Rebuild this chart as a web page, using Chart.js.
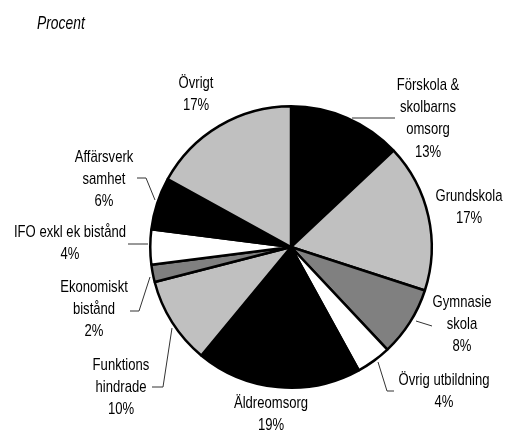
<!DOCTYPE html>
<html lang="sv">
<head>
<meta charset="utf-8">
<script src="https://cdn.jsdelivr.net/npm/chart.js@4"></script>
<style>
  html, body { margin: 0; padding: 0; background: #fff; }
  #wrap { width: 506px; height: 437px; position: relative; }
</style>
</head>
<body>
<div id="wrap"><canvas id="costChart"></canvas></div>
<script>
// Kostnadsfördelning, procent
const categories = [
  ["Förskola &", "skolbarns", "omsorg"],
  ["Grundskola"],
  ["Gymnasie", "skola"],
  ["Övrig utbildning"],
  ["Äldreomsorg"],
  ["Funktions", "hindrade"],
  ["Ekonomiskt", "bistånd"],
  ["IFO exkl ek bistånd"],
  ["Affärsverk", "samhet"],
  ["Övrigt"],
];
const shares = [13, 17, 8, 4, 19, 10, 2, 4, 6, 17];
const sliceColors = [
  "#000000", "#c0c0c0", "#808080", "#ffffff", "#000000",
  "#c0c0c0", "#808080", "#ffffff", "#000000", "#c0c0c0",
];

const FONT = '"Liberation Sans", Arial, sans-serif';
const NARROW = 0.77; // smal stil

// etikettplacering relativt tårtans mittpunkt (x = textens mitt, y = första raden)
const labelPos = [
  [137, -162], [178, -51], [171, 55], [153, 133], [-20, 156],
  [-170, 118], [-197, 40], [-221, -15], [-187, -90], [-95, -164],
];
// hänvisningslinjer
const leaders = [
  [[61, -129], [104, -129]],
  null,
  [[125, 74], [141, 79]],
  [[87, 115], [96, 144], [103, 144]],
  null,
  [[-119, 81], [-128, 140], [-139, 140]],
  [[-141, 30], [-152, 64], [-161, 64]],
  [[-143, -3], [-163, -3]],
  [[-136, -47], [-145, -69], [-154, -69]],
  null,
];

function narrowText(ctx, text, x, y) {
  ctx.save();
  ctx.translate(x, y);
  ctx.scale(NARROW, 1);
  ctx.fillText(text, 0, 0);
  ctx.restore();
}

const pieLabels = {
  id: "pieLabels",
  afterDraw(chart) {
    const ctx = chart.ctx;
    const arc = chart.getDatasetMeta(0).data[0];
    const cx = arc.x;
    const cy = arc.y;
    ctx.save();
    ctx.fillStyle = "#000";
    ctx.textBaseline = "middle";

    ctx.font = "italic 18px " + FONT;
    ctx.textAlign = "left";
    narrowText(ctx, "Procent", 37, 24);

    ctx.font = "17px " + FONT;
    ctx.textAlign = "center";
    categories.forEach((lines, i) => {
      const [dx, dy] = labelPos[i];
      const all = lines.concat([shares[i] + "%"]);
      all.forEach((t, j) => {
        narrowText(ctx, t, cx + dx, cy + dy + j * 22.3);
      });
    });

    ctx.strokeStyle = "#333";
    ctx.lineWidth = 1;
    leaders.forEach((pts) => {
      if (!pts) return;
      ctx.beginPath();
      pts.forEach(([x, y], k) => {
        if (k === 0) ctx.moveTo(cx + x, cy + y);
        else ctx.lineTo(cx + x, cy + y);
      });
      ctx.stroke();
    });
    ctx.restore();
  },
};

document.addEventListener("DOMContentLoaded", () => {
  const costChartElement = document.getElementById("costChart");
  if (costChartElement) {
    const costCtx = costChartElement.getContext("2d");
    new Chart(costCtx, {
      type: "pie",
      data: {
        labels: categories.map((l) => l.join(" ")),
        datasets: [
          {
            data: shares,
            backgroundColor: sliceColors,
            borderColor: "#000",
            borderWidth: 2.5,
          },
        ],
      },
      options: {
        responsive: true,
        maintainAspectRatio: false,
        animation: false,
        layout: {
          padding: { left: 149, top: 105, right: 73, bottom: 48 },
        },
        plugins: {
          legend: { display: false },
          tooltip: { enabled: false },
        },
      },
      plugins: [pieLabels],
    });
  }
});
</script>
</body>
</html>
